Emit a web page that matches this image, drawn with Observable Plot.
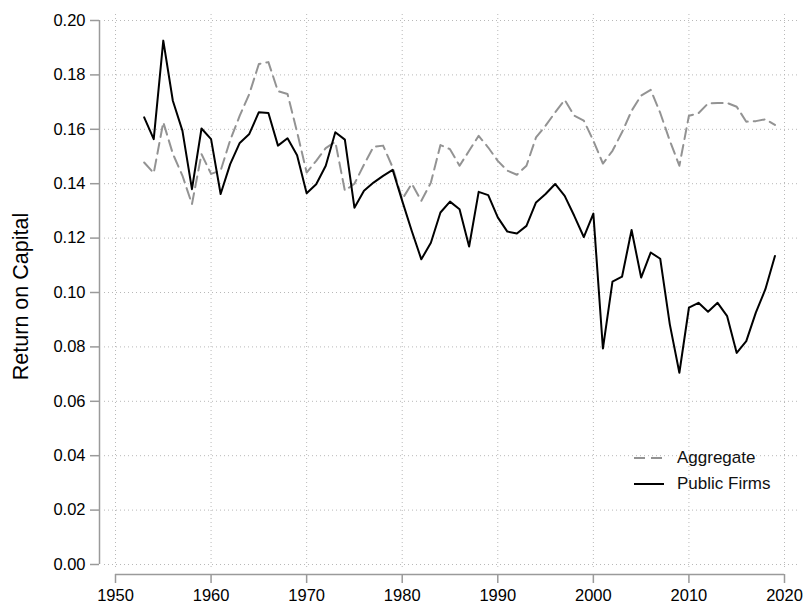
<!DOCTYPE html>
<html>
<head>
<meta charset="utf-8">
<script src="https://cdn.jsdelivr.net/npm/d3@7"></script>
<script src="https://cdn.jsdelivr.net/npm/@observablehq/plot@0.6"></script>
<style>
  body { margin: 0; background: #fff; font-family: "Liberation Sans", Arial, Helvetica, sans-serif; }
  #wrap { position: relative; width: 808px; height: 610px; }
  #legend { position: absolute; left: 634px; top: 445px; font-size: 17px; color: #111; }
  #legend .row { display: flex; align-items: center; height: 26px; }
  #legend svg { margin-right: 13px; }
</style>
</head>
<body>
<div id="wrap">
  <div id="chart"></div>
  <div id="legend">
    <div class="row"><svg width="30" height="4"><line x1="0" y1="2" x2="30" y2="2" stroke="#939393" stroke-width="2" stroke-dasharray="11,6"/></svg><span>Aggregate</span></div>
    <div class="row"><svg width="30" height="4"><line x1="0" y1="2" x2="30" y2="2" stroke="#000" stroke-width="2"/></svg><span>Public Firms</span></div>
  </div>
</div>
<script>
const years = d3.range(1953, 2020);
const aggregate = [
  0.1478, 0.1439, 0.1626, 0.1510, 0.1430, 0.1325, 0.1509, 0.1436, 0.1448, 0.1560,
  0.1650, 0.1730, 0.1840, 0.1847, 0.1740, 0.1730, 0.1590, 0.1441, 0.1484, 0.1531,
  0.1554, 0.1374, 0.1400, 0.1470, 0.1536, 0.1540, 0.1460, 0.1343, 0.1400, 0.1337,
  0.1404, 0.1542, 0.1527, 0.1466, 0.1521, 0.1576, 0.1533, 0.1484, 0.1448, 0.1433,
  0.1466, 0.1570, 0.1613, 0.1662, 0.1708, 0.1650, 0.1632, 0.1558, 0.1474, 0.1521,
  0.1589, 0.1668, 0.1724, 0.1745, 0.1660, 0.1558, 0.1466, 0.1650, 0.1659, 0.1695,
  0.1697, 0.1697, 0.1683, 0.1628, 0.1630, 0.1637, 0.1616
];
const publicFirms = [
  0.1644, 0.1564, 0.1926, 0.1705, 0.1595, 0.1380, 0.1603, 0.1564, 0.1362, 0.1472,
  0.1550, 0.1583, 0.1663, 0.1660, 0.1540, 0.1567, 0.1505, 0.1365, 0.1398, 0.1466,
  0.1589, 0.1562, 0.1312, 0.1374, 0.1404, 0.1429, 0.1451, 0.1337, 0.1226, 0.1122,
  0.1183, 0.1294, 0.1334, 0.1306, 0.1169, 0.1370, 0.1358, 0.1276, 0.1224, 0.1217,
  0.1245, 0.1331, 0.1362, 0.1399, 0.1355, 0.1282, 0.1204, 0.1290, 0.0794, 0.1040,
  0.1058, 0.1230, 0.1055, 0.1147, 0.1124, 0.0883, 0.0705, 0.0944, 0.0962, 0.0929,
  0.0962, 0.0913, 0.0778, 0.0821, 0.0926, 0.1012, 0.1134
];
const xTicks = [1950, 1960, 1970, 1980, 1990, 2000, 2010, 2020];
const yTicks = [0, 0.02, 0.04, 0.06, 0.08, 0.10, 0.12, 0.14, 0.16, 0.18, 0.20];
const yLabel = "Return on Capital";

const aggData = years.map((y, i) => ({year: y, value: aggregate[i]}));
const pubData = years.map((y, i) => ({year: y, value: publicFirms[i]}));

const axisColor = "#9a9a9a";
const gridColor = "#b8b8b8";

const chart = Plot.plot({
  width: 808,
  height: 610,
  marginLeft: 115,
  marginRight: 24,
  marginTop: 20,
  marginBottom: 46,
  style: {fontFamily: "'Liberation Sans', Arial, Helvetica, sans-serif", background: "#fff"},
  x: {domain: [1950, 2020]},
  y: {domain: [0, 0.2]},
  marks: [
    Plot.gridX(xTicks, {stroke: gridColor, strokeOpacity: 1, strokeDasharray: "1,3", insetTop: -6, insetBottom: -6}),
    Plot.gridY(yTicks, {stroke: gridColor, strokeOpacity: 1, strokeDasharray: "1,3", insetLeft: -11, insetRight: -16}),
    Plot.ruleX([1950], {y1: 0, y2: 0.2, dx: -16, stroke: axisColor, strokeWidth: 1.5}),
    Plot.ruleY([0], {x1: 1950, x2: 2020, dy: 10, stroke: axisColor, strokeWidth: 1.5}),
    Plot.axisY(yTicks, {
      tickFormat: d3.format(".2f"), dx: -16, tickSize: 9, tickPadding: 5,
      stroke: axisColor, strokeWidth: 1.5, fill: "#000", fontSize: 16.5, label: null
    }),
    Plot.axisX(xTicks, {
      tickFormat: d3.format("d"), dy: 10, tickSize: 9, tickPadding: 6,
      stroke: axisColor, strokeWidth: 1.5, fill: "#000", fontSize: 16.5, label: null
    }),
    Plot.text([yLabel], {
      frameAnchor: "left", text: d => d, rotate: -90, dx: -94, dy: 4,
      textAnchor: "middle", lineAnchor: "middle",
      fontSize: 21.5, fill: "#000"
    }),
    Plot.line(aggData, {x: "year", y: "value", stroke: "#939393", strokeWidth: 2, strokeDasharray: "11,6"}),
    Plot.line(pubData, {x: "year", y: "value", stroke: "#000", strokeWidth: 2})
  ]
});
document.getElementById("chart").appendChild(chart);
</script>
</body>
</html>
